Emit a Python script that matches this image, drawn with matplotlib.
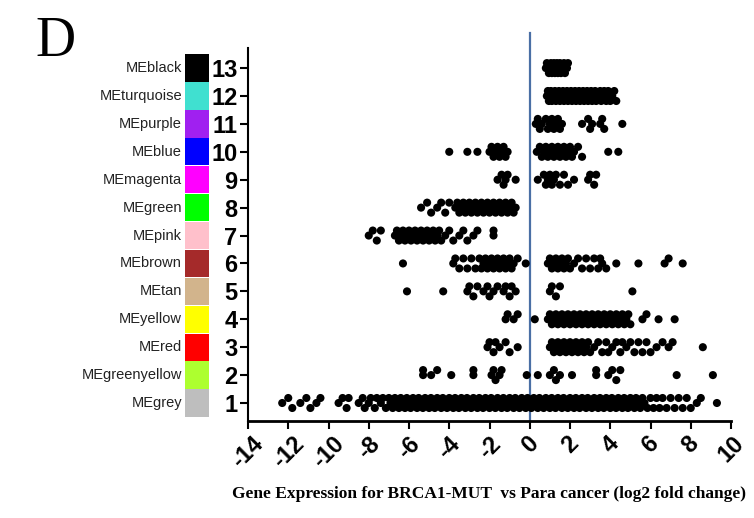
import numpy as np
import matplotlib
matplotlib.use("Agg")
import matplotlib.pyplot as plt
from matplotlib.patches import Rectangle
from matplotlib.transforms import blended_transform_factory

# ---------------- data ----------------
modules = ["MEgrey", "MEgreenyellow", "MEred", "MEyellow", "MEtan", "MEbrown", "MEpink",
           "MEgreen", "MEmagenta", "MEblue", "MEpurple", "MEturquoise", "MEblack"]
module_colors = ["#BEBEBE", "#ADFF2F", "#FF0000", "#FFFF00", "#D2B48C", "#A52A2A", "#FFC0CB",
                 "#00FF00", "#FF00FF", "#0000FF", "#A020F0", "#40E0D0", "#000000"]
row_numbers = list(range(1, 14))

x_ticks = [-14, -12, -10, -8, -6, -4, -2, 0, 2, 4, 6, 8, 10]
x_tick_labels = ["-14", "-12", "-10", "-8", "-6", "-4", "-2", "0", "2", "4", "6", "8", "10"]

grey = [-12.3, -12.0, -11.8, -11.4, -11.1, -10.9, -10.6, -10.4, -9.5, -9.3, -9.1, -9.0,
        -8.5, -8.3, -8.2, -8.0, -7.9, -7.7, -7.6, -7.4, -7.3, -7.15,
        -7.0, -6.92, -6.81, -6.7, -6.62, -6.5, -6.41, -6.33, -6.2, -6.11, -6.0, -5.92, -5.8,
        -5.71, -5.6, -5.52, -5.4, -5.31, -5.2, -5.12, -5.0, -4.91, -4.8, -4.72, -4.6, -4.51,
        -4.4, -4.32, -4.2, -4.11, -4.0, -3.92, -3.8, -3.71, -3.6, -3.52, -3.4, -3.31, -3.2,
        -3.12, -3.0, -2.91, -2.8, -2.72, -2.6, -2.51, -2.4, -2.32, -2.2, -2.11, -2.0, -1.92,
        -1.8, -1.71, -1.6, -1.52, -1.4, -1.31, -1.2, -1.12, -1.0, -0.91, -0.8, -0.72, -0.6,
        -0.51, -0.4, -0.32, -0.2, -0.11, 0.0, 0.08, 0.2, 0.29, 0.4, 0.48, 0.6, 0.69, 0.8,
        0.88, 1.0, 1.09, 1.2, 1.28, 1.4, 1.49, 1.6, 1.68, 1.8, 1.89, 2.0, 2.08, 2.2, 2.29,
        2.4, 2.48, 2.6, 2.69, 2.8, 2.88, 3.0, 3.09, 3.2, 3.28, 3.4, 3.49, 3.6, 3.68, 3.8,
        3.89, 4.0, 4.08, 4.2, 4.29, 4.4, 4.48, 4.6, 4.69, 4.8, 4.88, 5.0, 5.09, 5.2, 5.28,
        5.4, 5.49, 5.6, 5.7, 5.85, 6.0, 6.15, 6.3, 6.45, 6.6, 6.8, 7.0, 7.2, 7.4, 7.6, 7.8,
        8.0, 8.3, 8.5, 9.3]
greenyellow = [-5.3, -5.3, -4.9, -4.6, -3.9, -2.8, -2.8, -1.9, -1.8, -1.7, -1.5, -1.4,
               -0.15, 0.4, 1.0, 1.2, 1.3, 1.5, 2.1, 3.3, 3.3, 3.9, 4.1, 4.3, 4.5, 7.3, 9.1]
red = [-2.1, -2.0, -1.8, -1.7, -1.5, -1.2, -1.0, -0.6,
       1.0, 1.1, 1.2, 1.3, 1.4, 1.5, 1.6, 1.7, 1.8, 1.9, 2.0, 2.1, 2.2, 2.3, 2.4, 2.5, 2.6,
       2.7, 2.8, 2.9, 3.0, 3.2, 3.4, 3.6, 3.8, 3.9, 4.1, 4.3, 4.5, 4.6, 4.8, 5.0, 5.2, 5.4,
       5.6, 5.8, 6.0, 6.3, 6.6, 6.9, 7.1, 8.6]
yellow = [-1.2, -1.1, -0.8, -0.6, 0.25,
          0.9, 1.0, 1.1, 1.2, 1.3, 1.4, 1.5, 1.6, 1.7, 1.8, 1.9, 2.0, 2.1, 2.2, 2.3, 2.4,
          2.5, 2.6, 2.7, 2.8, 2.9, 3.0, 3.1, 3.2, 3.3, 3.4, 3.5, 3.6, 3.7, 3.8, 3.9, 4.0,
          4.1, 4.2, 4.3, 4.4, 4.5, 4.6, 4.7, 4.8, 4.9, 5.0, 5.6, 5.8, 6.4, 7.2]
tan = [-6.1, -4.3, -3.1, -3.0, -2.8, -2.6, -2.3, -2.1, -2.0, -1.8, -1.6, -1.3, -1.2, -1.0,
       -0.9, -0.7, 1.0, 1.1, 1.3, 1.5, 5.1]
brown = [-6.3, -3.8, -3.7, -3.5, -3.3, -3.1, -2.9, -2.7, -2.5, -2.4, -2.3, -2.2, -2.1, -2.0,
         -1.9, -1.8, -1.7, -1.6, -1.5, -1.4, -1.3, -1.2, -1.1, -1.0, -0.9, -0.8, -0.6, -0.2,
         0.9, 1.0, 1.1, 1.2, 1.3, 1.4, 1.5, 1.6, 1.7, 1.8, 1.9, 2.0, 2.2, 2.4, 2.6, 2.8, 3.0,
         3.2, 3.4, 3.5, 3.6, 3.8, 4.3, 5.4, 6.7, 6.9, 7.6]
pink = [-8.0, -7.8, -7.6, -7.4, -6.7, -6.6, -6.5, -6.4, -6.3, -6.2, -6.1, -6.0, -5.9, -5.8,
        -5.7, -5.6, -5.5, -5.4, -5.3, -5.2, -5.1, -5.0, -4.9, -4.8, -4.7, -4.6, -4.5, -4.4,
        -4.2, -4.0, -3.8, -3.5, -3.3, -3.1, -2.8, -2.6, -1.8, -1.8]
green = [-5.4, -5.1, -4.9, -4.6, -4.4, -4.2, -4.0, -3.7, -3.6, -3.5, -3.4, -3.3, -3.2, -3.1,
         -3.0, -2.9, -2.8, -2.7, -2.6, -2.5, -2.4, -2.3, -2.2, -2.1, -2.0, -1.9, -1.8, -1.7,
         -1.6, -1.5, -1.4, -1.3, -1.2, -1.1, -1.0, -0.9, -0.8, -0.7]
magenta = [-1.6, -1.4, -1.3, -1.2, -1.1, -0.7,
           0.4, 0.7, 0.8, 0.9, 1.0, 1.1, 1.2, 1.3, 1.5, 1.7, 1.9, 2.2, 2.9, 3.0, 3.2, 3.3]
blue = [-4.0, -3.1, -2.6, -2.0, -1.9, -1.8, -1.7, -1.6, -1.5, -1.4, -1.3, -1.2, -1.1,
        0.35, 0.5, 0.6, 0.7, 0.8, 0.9, 1.0, 1.1, 1.2, 1.3, 1.4, 1.5, 1.6, 1.7, 1.8, 1.9, 2.0,
        2.1, 2.2, 2.4, 2.6, 3.9, 4.4]
purple = [0.3, 0.4, 0.5, 0.6, 0.8, 0.9, 1.0, 1.1, 1.2, 1.3, 1.4, 1.5, 1.6, 2.6, 2.9, 3.0, 3.1,
          3.5, 3.6, 3.7, 4.6]
turquoise = [0.85, 0.9, 0.95, 1.0, 1.05, 1.1, 1.2, 1.25, 1.3, 1.4, 1.45, 1.5, 1.6, 1.65, 1.7,
             1.8, 1.85, 1.9, 2.0, 2.05, 2.1, 2.2, 2.25, 2.3, 2.4, 2.45, 2.5, 2.6, 2.65, 2.7,
             2.8, 2.85, 2.9, 3.0, 3.05, 3.1, 3.2, 3.25, 3.3, 3.4, 3.5, 3.55, 3.6, 3.7, 3.8,
             3.85, 3.9, 4.0, 4.1, 4.2, 4.3]
black = [0.8, 0.85, 0.95, 1.0, 1.05, 1.1, 1.15, 1.2, 1.25, 1.3, 1.35, 1.4, 1.45, 1.5, 1.55,
         1.6, 1.7, 1.75, 1.85, 1.9]

series = [grey, greenyellow, red, yellow, tan, brown, pink, green, magenta, blue, purple,
          turquoise, black]

x_label = "Gene Expression for BRCA1-MUT  vs Para cancer (log2 fold change)"

# ---------------- figure ----------------
W, H = 754, 518
fig = plt.figure(figsize=(W / 100, H / 100), dpi=100)
ax_l, ax_r, ax_t, ax_b = 248, 731, 48, 421
ax = fig.add_axes([ax_l / W, 1 - ax_b / H, (ax_r - ax_l) / W, (ax_b - ax_t) / H])
ax.set_xlim(-14, 10)
ax.set_ylim(0.355, 13.72)

ppx = (ax_r - ax_l) / 24.0
ppy = (ax_b - ax_t) / (13.72 - 0.355)


def swarm_offsets(vals, diam=6.5, step=5.0, kmax=1):
    xs = np.asarray(vals, float) * ppx
    order = np.argsort(xs, kind="stable")
    cands = [0.0]
    for k in range(1, kmax + 1):
        cands += [k * step, -k * step]
    placed_x, placed_y = [], []
    offs = np.zeros(len(xs))
    for i in order:
        x = xs[i]
        best, bestd = 0.0, -1.0
        for c in cands:
            if placed_x:
                px = np.array(placed_x)
                py = np.array(placed_y)
                m = np.abs(px - x) < diam
                d = np.min(np.hypot(px[m] - x, py[m] - c)) if m.any() else np.inf
            else:
                d = np.inf
            if d >= diam:
                best = c
                break
            if d > bestd:
                bestd, best = d, c
        placed_x.append(x)
        placed_y.append(best)
        offs[i] = best
    return offs / ppy


for row, vals in zip(row_numbers, series):
    yo = swarm_offsets(vals)
    ax.scatter(vals, row + yo, s=34, color="black", edgecolors="none", zorder=3)

# vertical line at 0
ax.plot([0, 0], [0.355, 14.25], color="#4a6fa5", lw=1.6, clip_on=False, zorder=2)

# spines
for s in ["top", "right"]:
    ax.spines[s].set_visible(False)
ax.spines["left"].set_linewidth(1.5)
ax.spines["bottom"].set_linewidth(2.0)

ax.set_yticks(row_numbers)
ax.set_yticklabels([str(r) for r in row_numbers], fontsize=17, fontweight="bold",
                   family="Liberation Sans")
ax.tick_params(axis="y", length=6, width=1.5, pad=1.5)

ax.set_xticks(x_ticks)
ax.set_xticklabels(x_tick_labels, fontsize=17, fontweight="bold", family="Liberation Sans",
                   rotation=45, ha="center", va="top")
ax.tick_params(axis="x", length=6, width=1.5, pad=2)

ax.set_xlabel(x_label, family="Liberation Serif", fontweight="bold", fontsize=12.5,
              labelpad=10)

# colour patches and module names
trans = blended_transform_factory(ax.transAxes, ax.transData)
px_w = ax_r - ax_l
for row, name, col in zip(row_numbers, modules, module_colors):
    ax.add_patch(Rectangle(((185 - ax_l) / px_w, row - 0.49), 24 / px_w, 0.98,
                           transform=trans, facecolor=col, edgecolor="none", clip_on=False))
    ax.text((182 - ax_l) / px_w, row, name, transform=trans, ha="right", va="center",
            fontsize=10.5, family="Liberation Sans", color="#222222")

fig.text(35 / W, 1 - 56 / H, "D", family="Liberation Serif", fontsize=40, ha="left",
         va="baseline")

fig.savefig("out.png", dpi=100)
